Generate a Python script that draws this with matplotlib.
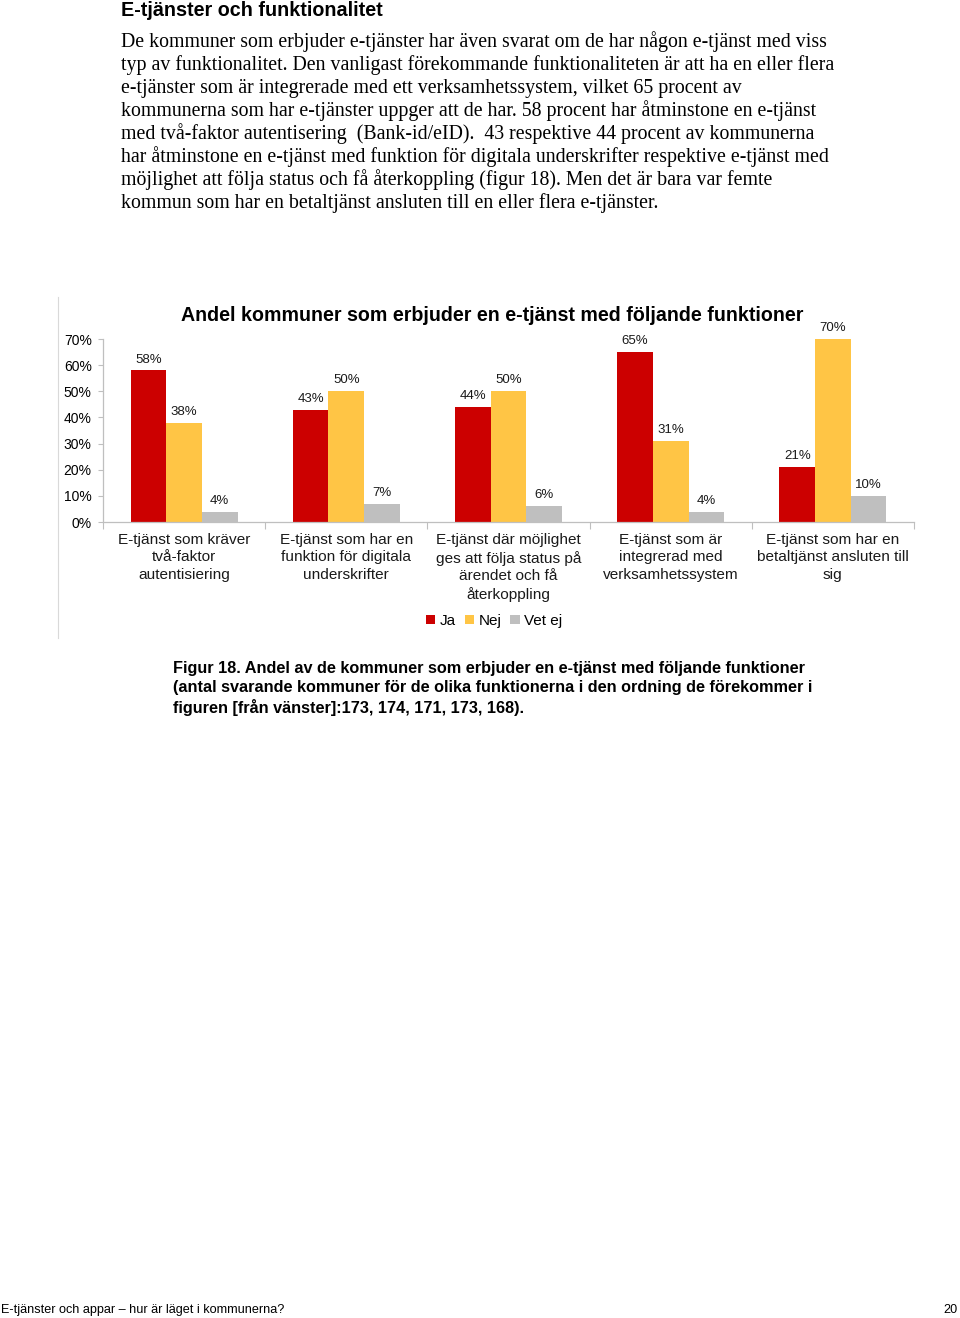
import matplotlib
matplotlib.use("Agg")
import matplotlib.pyplot as plt
import numpy as np
from matplotlib.ticker import FuncFormatter, MultipleLocator
from matplotlib.patches import Patch

categories = [
    "E-tjänst som kräver\ntvå-faktor\nautentisiering",
    "E-tjänst som har en\nfunktion för digitala\nunderskrifter",
    "E-tjänst där möjlighet\nges att följa status på\närendet och få\nåterkoppling",
    "E-tjänst som är\nintegrerad med\nverksamhetssystem",
    "E-tjänst som har en\nbetaltjänst ansluten till\nsig",
]
ja = [0.58, 0.43, 0.44, 0.65, 0.21]
nej = [0.38, 0.50, 0.50, 0.31, 0.70]
vet_ej = [0.04, 0.07, 0.06, 0.04, 0.10]
series_names = ["Ja", "Nej", "Vet ej"]
colors = ["#CC0000", "#FFC545", "#BFBFBF"]

W, H = 960, 1318
fig = plt.figure(figsize=(W / 100, H / 100), dpi=100)
fig.patch.set_facecolor("white")

def fx(px):
    return px / W

def fy(py):
    return 1 - py / H

sans = ["Liberation Sans", "DejaVu Sans"]
serif = ["Liberation Serif", "DejaVu Serif"]

# Heading
fig.text(fx(121), fy(10), "E-tjänster och funktionalitet", family=sans,
         fontsize=14.2, fontweight="bold", va="center", ha="left")

para = [
    "De kommuner som erbjuder e-tjänster har även svarat om de har någon e-tjänst med viss",
    "typ av funktionalitet. Den vanligast förekommande funktionaliteten är att ha en eller flera",
    "e-tjänster som är integrerade med ett verksamhetssystem, vilket 65 procent av",
    "kommunerna som har e-tjänster uppger att de har. 58 procent har åtminstone en e-tjänst",
    "med två-faktor autentisering  (Bank-id/eID).  43 respektive 44 procent av kommunerna",
    "har åtminstone en e-tjänst med funktion för digitala underskrifter respektive e-tjänst med",
    "möjlighet att följa status och få återkoppling (figur 18). Men det är bara var femte",
    "kommun som har en betaltjänst ansluten till en eller flera e-tjänster.",
]
for i, line in enumerate(para):
    fig.text(fx(121), fy(42 + i * 23), line, family=serif, fontsize=14.3,
             va="center", ha="left")

# Chart frame line at left
fig.add_artist(plt.Line2D([fx(58), fx(58)], [fy(297), fy(638)],
                          color="#D9D9D9", lw=0.8))

ax = fig.add_axes([fx(103), fy(522), fx(914) - fx(103), (522 - 339) / H])
x = np.arange(len(categories))
bw = 0.22
for k, (vals, c) in enumerate(zip([ja, nej, vet_ej], colors)):
    pos = x + (k - 1) * bw
    bars = ax.bar(pos, vals, width=bw, color=c, label=series_names[k])
    for b, v in zip(bars, vals):
        ax.annotate(f"{round(v * 100)}%", (b.get_x() + b.get_width() / 2, v),
                    xytext=(0, 3.5), textcoords="offset points", ha="center",
                    va="bottom", fontsize=9.5, family=sans, color="#1a1a1a")

ax.set_xlim(-0.5, len(categories) - 0.5)
ax.set_ylim(0, 0.7)
ax.yaxis.set_major_locator(MultipleLocator(0.1))
ax.yaxis.set_major_formatter(FuncFormatter(lambda v, p: f"{round(v * 100)}%"))
for s in ["top", "right"]:
    ax.spines[s].set_visible(False)
for s in ["left", "bottom"]:
    ax.spines[s].set_color("#BFBFBF")
    ax.spines[s].set_linewidth(0.9)
ax.tick_params(axis="y", length=3.6, color="#BFBFBF", labelsize=10, pad=4.5)
for lab in ax.get_yticklabels():
    lab.set_family(sans)
ax.set_xticks(np.arange(len(categories) + 1) - 0.5, minor=False)
ax.set_xticklabels([])
ax.tick_params(axis="x", length=5, color="#BFBFBF", direction="out")
for i, cat in enumerate(categories):
    ax.text(i, -0.042, cat, ha="center", va="top", fontsize=11.1, family=sans,
            linespacing=1.31, color="#1a1a1a", transform=ax.transData)

fig.text(fx(492), fy(315), "Andel kommuner som erbjuder en e-tjänst med följande funktioner",
         family=sans, fontsize=14.1, fontweight="bold", ha="center", va="center")

handles = [Patch(facecolor=c, edgecolor="none") for c in colors]
fig.legend(handles, series_names, loc="center", bbox_to_anchor=(fx(494), fy(621)),
           ncol=3, frameon=False, prop={"family": sans, "size": 11},
           handlelength=0.6, handleheight=0.6, handletextpad=0.3, columnspacing=0.6)

cap = [
    "Figur 18. Andel av de kommuner som erbjuder en e-tjänst med följande funktioner",
    "(antal svarande kommuner för de olika funktionerna i den ordning de förekommer i",
    "figuren [från vänster]:173, 174, 171, 173, 168).",
]
for i, line in enumerate(cap):
    fig.text(fx(173), fy(668 + i * 19.5), line, family=sans, fontsize=11.7,
             fontweight="bold", va="center", ha="left")

fig.text(fx(1), fy(1310), "E-tjänster och appar – hur är läget i kommunerna?",
         family=sans, fontsize=9.1, va="center", ha="left")
fig.text(fx(958), fy(1310), "20", family=sans, fontsize=9.1, va="center", ha="right")

fig.savefig("out.png", dpi=100, facecolor="white")
